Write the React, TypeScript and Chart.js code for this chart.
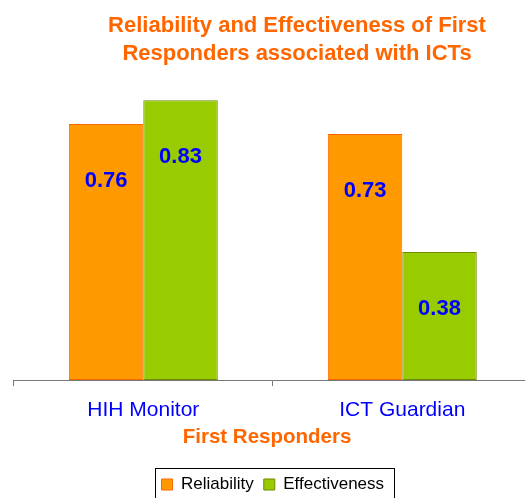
import React, { useEffect, useRef } from "react";
import { Chart, registerables } from "chart.js";

Chart.register(...registerables);

const categories = ["HIH Monitor", "ICT Guardian"];
const seriesNames = ["Reliability", "Effectiveness"];
const reliability = [0.76, 0.73];
const effectiveness = [0.83, 0.38];
const titleLines = ["Reliability and Effectiveness of First", "Responders associated with ICTs"];
const axisTitle = "First Responders";
const yMin = 0;
const yMax = 0.9;

const FONT = "'Liberation Sans', Arial, Helvetica, sans-serif";
const CANVAS_W = 550;
const CANVAS_H = 510;

export default function App() {
  const ref = useRef<HTMLCanvasElement>(null);

  useEffect(() => {
    const canvas = ref.current;
    if (!canvas) return;

    const textPlugin = {
      id: "customText",
      afterDraw(chart: any) {
        const ctx = chart.ctx;
        ctx.save();
        ctx.fillStyle = "#FF6600";
        ctx.textAlign = "center";
        ctx.textBaseline = "alphabetic";
        ctx.font = `bold 22px ${FONT}`;
        ctx.fillText(titleLines[0], 297, 31.7);
        ctx.fillText(titleLines[1], 297, 60);
        ctx.font = `bold 20.5px ${FONT}`;
        ctx.fillText(axisTitle, 267, 442.7);

        const lg = chart.legend;
        if (lg && lg.legendHitBoxes && lg.legendHitBoxes.length) {
          const hb = lg.legendHitBoxes;
          const l = Math.min(...hb.map((h: any) => h.left)) - 6.5;
          const r = Math.max(...hb.map((h: any) => h.left + h.width)) + 9.5;
          const t = hb[0].top - 8;
          ctx.strokeStyle = "#000000";
          ctx.lineWidth = 1;
          ctx.strokeRect(Math.round(l) + 0.5, Math.round(t) + 0.5, Math.round(r - l), 40);
        }
        ctx.restore();
      },
      afterDatasetsDraw(chart: any) {
        const ctx = chart.ctx;
        ctx.save();
        ctx.fillStyle = "#0000FF";
        ctx.textAlign = "center";
        ctx.textBaseline = "alphabetic";
        ctx.font = `bold 22px ${FONT}`;
        chart.data.datasets.forEach((ds: any, i: number) => {
          const meta = chart.getDatasetMeta(i);
          meta.data.forEach((bar: any, j: number) => {
            ctx.fillText(Number(ds.data[j]).toFixed(2), bar.x, bar.y + 63);
          });
        });
        ctx.restore();
      },
    };

    const chart = new Chart(canvas, {
      type: "bar",
      data: {
        labels: categories,
        datasets: [
          {
            label: seriesNames[0],
            data: reliability,
            backgroundColor: "#FF9900",
            borderColor: "#FF6600",
            borderWidth: 1,
            borderSkipped: false,
            categoryPercentage: 0.575,
            barPercentage: 1,
          },
          {
            label: seriesNames[1],
            data: effectiveness,
            backgroundColor: "#99CC00",
            borderColor: "#6E8B00",
            borderWidth: 1,
            borderSkipped: false,
            categoryPercentage: 0.575,
            barPercentage: 1,
          },
        ],
      },
      options: {
        responsive: false,
        animation: false,
        devicePixelRatio: 1,
        layout: { padding: { left: 13.8, right: 18.2, top: 76.7, bottom: 7 } },
        plugins: {
          title: { display: false },
          tooltip: { enabled: false },
          legend: {
            display: true,
            position: "bottom",
            labels: {
              boxWidth: 11,
              boxHeight: 11,
              padding: 10,
              color: "#000000",
              font: { family: FONT, size: 17, lineHeight: 0.9 },
            },
          },
        },
        scales: {
          x: {
            offset: true,
            grid: {
              display: true,
              offset: true,
              drawOnChartArea: false,
              drawTicks: true,
              tickLength: 6,
              color: "#777777",
            },
            border: { display: true, color: "#777777", width: 1 },
            ticks: {
              color: "#0000FF",
              font: { family: FONT, size: 21 },
              padding: 12,
              maxRotation: 0,
            },
            afterFit: (scale: any) => {
              scale.height = 86;
            },
          },
          y: {
            display: false,
            min: yMin,
            max: yMax,
          },
        },
      },
      plugins: [textPlugin],
    });

    return () => chart.destroy();
  }, []);

  return (
    <div
      style={{
        position: "absolute",
        left: 0,
        top: 0,
        width: 525,
        height: 498,
        overflow: "hidden",
        background: "#ffffff",
      }}
    >
      <canvas
        ref={ref}
        width={CANVAS_W}
        height={CANVAS_H}
        style={{ width: CANVAS_W, height: CANVAS_H, display: "block" }}
      />
    </div>
  );
}
